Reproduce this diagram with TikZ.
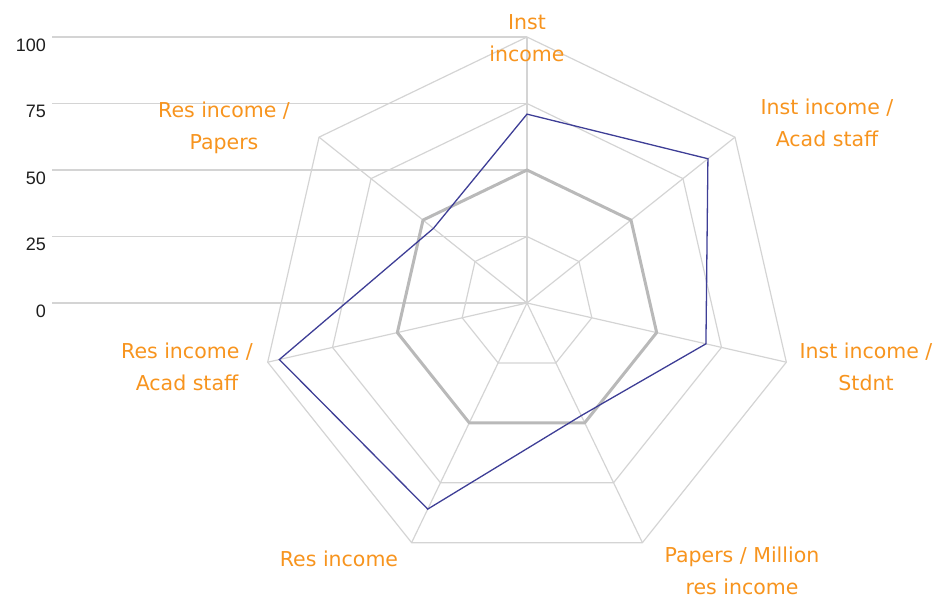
\documentclass[tikz,border=0pt]{standalone}
\usepackage{fontspec}
\setmainfont{Liberation Sans}
\newfontfamily\labfont{DejaVu Sans}
\definecolor{gridc}{RGB}{212,212,212}
\definecolor{avgc}{RGB}{185,185,185}
\definecolor{serc}{RGB}{62,62,150}
\definecolor{labc}{RGB}{247,148,30}
\definecolor{numc}{RGB}{30,30,30}
\tikzset{
  gridline/.style={draw=gridc, line width=1.2pt},
  avgline/.style={draw=avgc, line width=3pt, line join=round},
  serline/.style={draw=serc, line width=1.3pt, line join=miter},
  axlab/.style={text=labc, align=center, inner sep=0pt, font=\labfont\fontsize{20.5}{32}\selectfont},
  numlab/.style={text=numc, anchor=east, inner sep=0pt, font=\fontsize{18}{20}\selectfont}
}
\begin{document}
\begin{tikzpicture}[x=1pt,y=-1pt]
\useasboundingbox (0,0) rectangle (939,599);
\def\cx{527}\def\cy{303}\def\R{266}
% horizontal scale lines and numbers
\foreach \v in {0,25,50,75,100} {
  \draw[gridline] (52,{\cy-\v/100*\R}) -- (\cx,{\cy-\v/100*\R});
  \node[numlab] (n\v) at (46,{\cy-\v/100*\R+8}) {\v};
}
% rings
\foreach \v in {25,50,75,100} {
  \draw[gridline] (\cx,{\cy-\v/100*\R})
    \foreach \k in {1,...,6} { -- ({\cx+\v/100*\R*sin(\k*360/7)},{\cy-\v/100*\R*cos(\k*360/7)}) } -- cycle;
}
% spokes
\coordinate (c) at (\cx,\cy);
\foreach \k in {0,...,6} {
  \coordinate (o\k) at ({\cx+\R*sin(\k*360/7)},{\cy-\R*cos(\k*360/7)});
  \draw[gridline] (c) -- (o\k);
}
% average series (50)
\foreach \k in {0,...,6} {
  \coordinate (a\k) at ({\cx+0.5*\R*sin(\k*360/7)},{\cy-0.5*\R*cos(\k*360/7)});
}
\draw[avgline] (a0) -- (a1) -- (a2) -- (a3) -- (a4) -- (a5) -- (a6) -- cycle;
% data series
\foreach \k/\v in {0/71,1/87,2/69,3/47,4/86,5/95.5,6/45} {
  \coordinate (b\k) at ({\cx+\v/100*\R*sin(\k*360/7)},{\cy-\v/100*\R*cos(\k*360/7)});
}
\draw[serline] (b0) -- (b1) -- (b2) -- (b3) -- (b4) -- (b5) -- (b6) -- cycle;
% axis labels
\node[axlab] (l0) at (527,38) {Inst\\income};
\node[axlab] (l1) at (827,123) {Inst income /\\Acad staff};
\node[axlab] (l2) at (866,367) {Inst income /\\Stdnt};
\node[axlab] (l3) at (742,571) {Papers / Million\\res income};
\node[axlab] (l4) at (339,559) {Res income};
\node[axlab] (l5) at (187,367) {Res income /\\Acad staff};
\node[axlab] (l6) at (224,128) {Res income /\\Papers};
\end{tikzpicture}
\end{document}
